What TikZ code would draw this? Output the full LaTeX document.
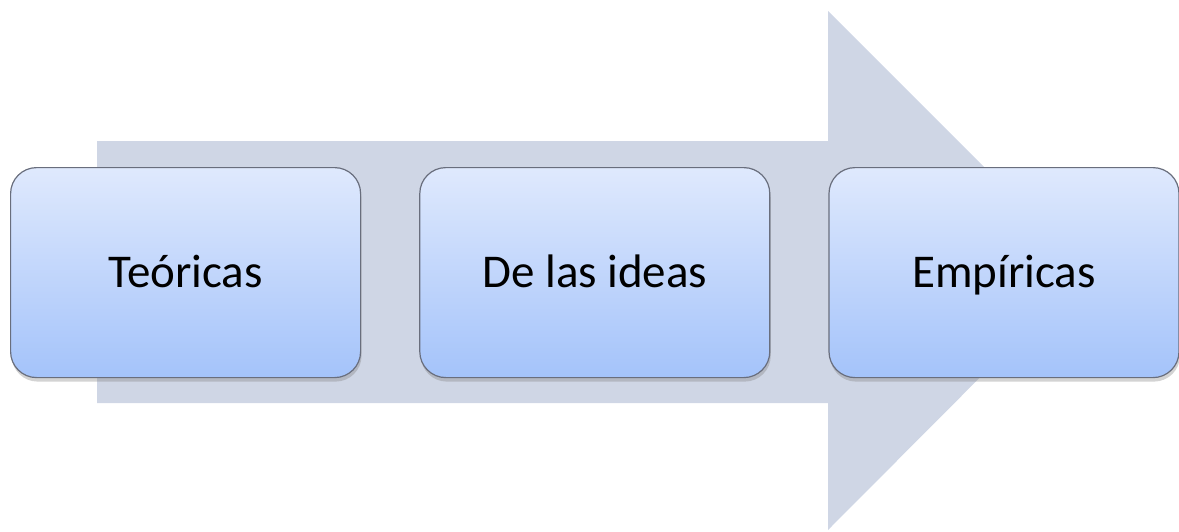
\documentclass[tikz,border=0pt]{standalone}
\usepackage{fontspec}
\setmainfont{Carlito}
\usetikzlibrary{positioning,shadows,calc}
\definecolor{arrowbg}{RGB}{207,214,229}
\definecolor{boxtop}{RGB}{223,233,253}
\definecolor{boxbot}{RGB}{164,195,250}
\definecolor{boxline}{RGB}{105,110,125}

\begin{document}
\begin{tikzpicture}[
    x=1pt, y=-1pt,
    node distance=58pt,
    stage/.style={draw=boxline, line width=1.2pt, rounded corners=26pt,
        minimum width=350pt, minimum height=210pt,
        top color=boxtop, bottom color=boxbot,
        text height=30pt, text depth=0pt,
        drop shadow={shadow xshift=1pt, shadow yshift=-4pt, opacity=0.35},
        font=\fontsize{47}{52}\selectfont},
]
    \useasboundingbox (0,0) rectangle (1179,531);

    % Background arrow
    \fill[arrowbg] (97,141) -- (828,141) -- (828,11) -- (1087,270)
        -- (828,530) -- (828,403) -- (97,403) -- cycle;

    % Stages
    \node[stage, anchor=north west] (theory) at (10,167) {Teóricas};
    \node[stage, right=of theory] (ideas) {De las ideas};
    \node[stage, right=of ideas] (empiric) {Empíricas};
\end{tikzpicture}
\end{document}
